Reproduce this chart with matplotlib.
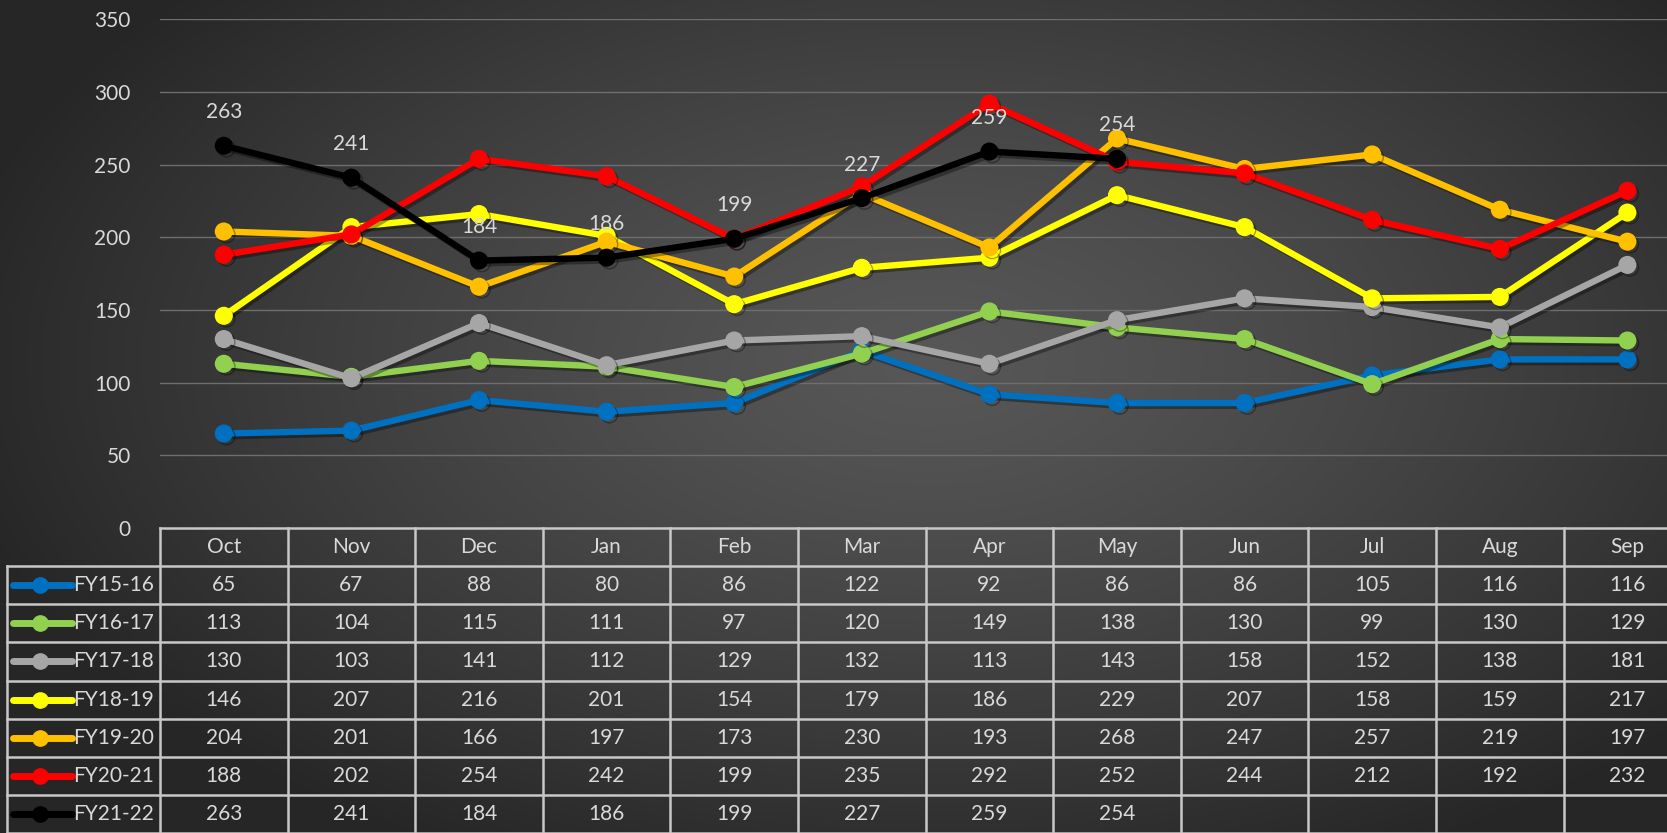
import numpy as np
import matplotlib.pyplot as plt
import matplotlib.patheffects as pe

plt.rcParams['font.family'] = ['Lato', 'DejaVu Sans']

#data
months = ["Oct", "Nov", "Dec", "Jan", "Feb", "Mar", "Apr", "May", "Jun", "Jul", "Aug", "Sep"]
fy15_16 = [65, 67, 88, 80, 86, 122, 92, 86, 86, 105, 116, 116]
fy16_17 = [113, 104, 115, 111, 97, 120, 149, 138, 130, 99, 130, 129]
fy17_18 = [130, 103, 141, 112, 129, 132, 113, 143, 158, 152, 138, 181]
fy18_19 = [146, 207, 216, 201, 154, 179, 186, 229, 207, 158, 159, 217]
fy19_20 = [204, 201, 166, 197, 173, 230, 193, 268, 247, 257, 219, 197]
fy20_21 = [188, 202, 254, 242, 199, 235, 292, 252, 244, 212, 192, 232]
fy21_22 = [263, 241, 184, 186, 199, 227, 259, 254]

series_names = ["FY15-16", "FY16-17", "FY17-18", "FY18-19", "FY19-20", "FY20-21", "FY21-22"]
series_values = [fy15_16, fy16_17, fy17_18, fy18_19, fy19_20, fy20_21, fy21_22]
series_colors = ["#0070C0", "#92D050", "#A6A6A6", "#FFFF00", "#FFC000", "#FF0000", "#000000"]

y_ticks = [0, 50, 100, 150, 200, 250, 300, 350]

TXT = "#D9D9D9"
FS = 15
W, H = 1667, 833

fig = plt.figure(figsize=(W / 100, H / 100), dpi=100)

#radial background
bg = fig.add_axes([0, 0, 1, 1], zorder=-10)
yy, xx = np.mgrid[0:H, 0:W]
r = np.sqrt(((xx - 930) / 1000.0) ** 2 + ((yy - 360) / 560.0) ** 2)
r = np.clip(r, 0, 1) ** 1.3
c0, c1 = 0x57 / 255, 0x26 / 255
img = c0 + (c1 - c0) * r
bg.imshow(np.dstack([img, img, img]), aspect='auto', extent=[0, W, H, 0])
bg.set_axis_off()

#layout in pixels
col_w = 127.6
x_left = 160
x_right = x_left + 12 * col_w
y_top = 19.3
y_zero = 528
leg_left = 7

ax = fig.add_axes([x_left / W, (H - y_zero) / H, (x_right - x_left) / W, (y_zero - y_top) / H])
ax.patch.set_alpha(0)
ax.set_xlim(-0.5, 11.5)
ax.set_ylim(0, 350)
ax.set_yticks(y_ticks)
ax.set_xticks([])
for s in ax.spines.values():
    s.set_visible(False)
ax.tick_params(axis='y', length=0, pad=21, labelsize=FS, labelcolor=TXT)
for t in y_ticks[1:]:
    ax.axhline(t, color="#6E6E6E", lw=1, zorder=0)

shadow = [pe.SimpleLineShadow(offset=(2, -2), shadow_color='black', alpha=0.35), pe.Normal()]

for name, vals, col in zip(series_names, series_values, series_colors):
    x = np.arange(len(vals))
    ax.plot(x, vals, color=col, lw=4.6, marker='o', ms=12, mfc=col, mec=col,
            path_effects=shadow, clip_on=False, zorder=3)

#data labels for latest year
for i, v in enumerate(fy21_22):
    ax.annotate(str(v), (i, v), xytext=(0, 24), textcoords='offset points',
                ha='center', va='center', color=TXT, fontsize=FS, zorder=5)

#data table
tb = fig.add_axes([leg_left / W, 0, (x_right - leg_left) / W, (H - y_zero) / H])
tb.patch.set_alpha(0)
x0 = -0.5 - (x_left - leg_left) / col_w
tb.set_xlim(x0, 11.5)
tb.set_ylim(8, 0)
tb.set_axis_off()

lc = "#C8C8C8"
tb.plot([-0.5, 11.5], [0, 0], color=lc, lw=1.8, clip_on=False)
for r_ in range(1, 9):
    tb.plot([x0, 11.5], [r_, r_], color=lc, lw=1.8, clip_on=False)
tb.plot([x0, x0], [1, 8], color=lc, lw=1.8, clip_on=False)
for c in range(13):
    tb.plot([c - 0.5, c - 0.5], [0, 8], color=lc, lw=1.8, clip_on=False)

for c, m in enumerate(months):
    tb.text(c, 0.5, m, ha='center', va='center', color=TXT, fontsize=FS)

for r_, (name, vals, col) in enumerate(zip(series_names, series_values, series_colors), start=1):
    ky = r_ + 0.5
    tb.plot([x0 + 6 / col_w, x0 + 65 / col_w], [ky, ky], color=col, lw=5, solid_capstyle='round')
    tb.plot([x0 + 33 / col_w], [ky], marker='o', ms=11, color=col)
    tb.text(x0 + 66 / col_w, ky, name, ha='left', va='center', color=TXT, fontsize=FS)
    for c, v in enumerate(vals):
        tb.text(c, ky, str(v), ha='center', va='center', color=TXT, fontsize=FS)

fig.savefig("out.png", dpi=100)
